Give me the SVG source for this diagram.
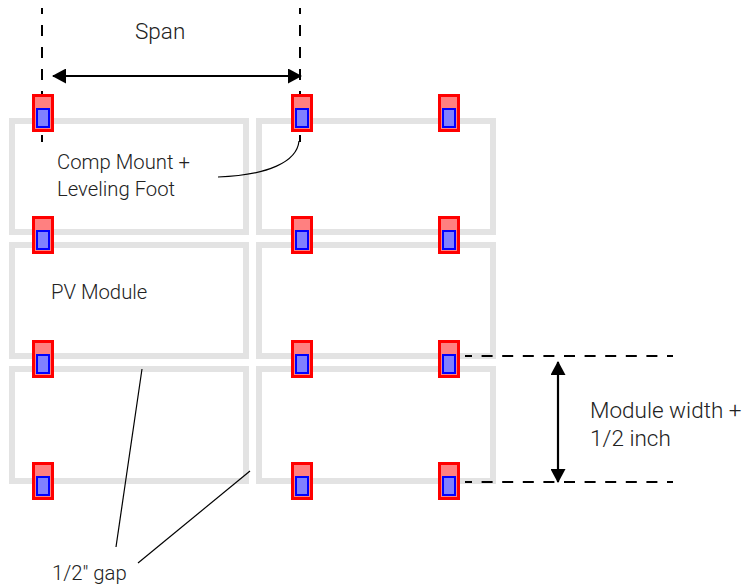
<svg xmlns="http://www.w3.org/2000/svg" xmlns:xlink="http://www.w3.org/1999/xlink" width="743" height="586" viewBox="0 0 743 586">
<style>
.mod{fill:#fff;stroke:#e3e3e3;stroke-width:6}
.o{fill:#ff8080;stroke:#f00;stroke-width:3}
.i{fill:#8080ff;stroke:#00f;stroke-width:2}
.d{fill:none;stroke:#000;stroke-width:2}
.v{stroke-dasharray:11 11;stroke-dashoffset:5}
.h{stroke-dasharray:11 9.6;stroke-dashoffset:4}
.l{fill:none;stroke:#000;stroke-width:1.2}
.a{fill:none;stroke:#000;stroke-width:2.2;marker-start:url(#h);marker-end:url(#h)}
text{font-family:"Roboto","Liberation Sans",sans-serif;font-size:20.3px;font-weight:300;fill:#222}
.b{font-size:22.5px}
</style>
<defs>
<marker id="h" viewBox="0 0 14 15" refX="13" refY="7.5" markerWidth="14" markerHeight="15" markerUnits="userSpaceOnUse" orient="auto-start-reverse"><path d="M0 0L14 7.5L0 15Z" fill="#000"/></marker>
<g id="m"><rect class="o" x="33.5" y="95.5" width="19" height="35"/><rect class="i" x="37" y="109" width="12" height="18"/></g>
</defs>
<g id="modules">
<rect id="module-1" class="mod" x="12" y="121" width="234" height="111"/>
<rect id="module-2" class="mod" x="259" y="121" width="234" height="111"/>
<rect id="module-3" class="mod" x="12" y="245" width="234" height="111"/>
<rect id="module-4" class="mod" x="259" y="245" width="234" height="111"/>
<rect id="module-5" class="mod" x="12" y="369" width="234" height="112"/>
<rect id="module-6" class="mod" x="259" y="369" width="234" height="112"/>
</g>
<g id="connectors">
<path class="d v" d="M42 8V142"/>
<path class="d v" d="M300 8V142"/>
<path class="d h" d="M465 356H673"/>
<path class="d h" d="M465 482H673"/>
<path class="a" d="M53 76H301"/>
<path class="a" d="M558 362V482"/>
<path class="l" d="M299 141C297 162 268 175 218 177"/>
<path class="l" d="M142 369L116 547"/>
<path class="l" d="M250 471L138 563"/>
</g>
<g id="mounts">
<use id="mount-1" xlink:href="#m" href="#m"/>
<use id="mount-2" href="#m" x="259"/>
<use id="mount-3" href="#m" x="406"/>
<use id="mount-4" href="#m" y="122"/>
<use id="mount-5" href="#m" x="259" y="122"/>
<use id="mount-6" href="#m" x="406" y="122"/>
<use id="mount-7" href="#m" y="246"/>
<use id="mount-8" href="#m" x="259" y="246"/>
<use id="mount-9" href="#m" x="406" y="246"/>
<use id="mount-10" href="#m" y="368"/>
<use id="mount-11" href="#m" x="259" y="368"/>
<use id="mount-12" href="#m" x="406" y="368"/>
</g>
<g id="labels">
<text class="b" x="135" y="39">Span</text>
<text x="57" y="169">Comp Mount +</text>
<text x="57" y="196">Leveling Foot</text>
<text x="51" y="299">PV Module</text>
<text class="b" x="590" y="418">Module width +</text>
<text class="b" x="590" y="446">1/2 inch</text>
<text x="52" y="580">1/2" gap</text>
</g>
</svg>
